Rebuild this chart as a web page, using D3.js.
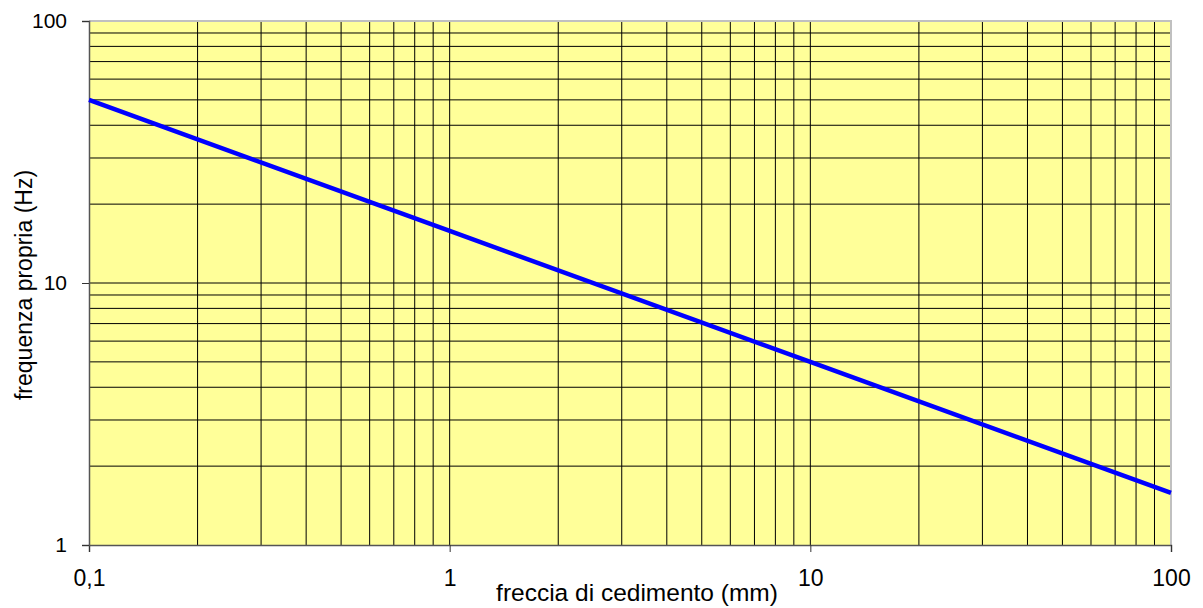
<!DOCTYPE html>
<html>
<head>
<meta charset="utf-8">
<script src="https://cdn.jsdelivr.net/npm/d3@7"></script>
<style>
  body { margin: 0; background: #fff; }
  svg { display: block; font-family: "Liberation Sans", Arial, sans-serif; }
</style>
</head>
<body>
<div id="chart"></div>
<script>
// values (log-log line)
const freccia = [0.1, 1, 10, 100];          // mm
const frequenza = [50, 15.8, 5, 1.58];      // Hz
const xTicks = [0.1, 1, 10, 100];
const xTickLabels = ["0,1", "1", "10", "100"];
const yTicks = [1, 10, 100];
const yTickLabels = ["1", "10", "100"];

const width = 1203, height = 608;
const margin = { top: 21, right: 32, bottom: 63, left: 89 };

const svg = d3.select("#chart").append("svg")
    .attr("width", width)
    .attr("height", height);

const x = d3.scaleLog()
    .domain([0.1, 100])
    .range([margin.left, width - margin.right]);

const y = d3.scaleLog()
    .domain([1, 100])
    .range([height - margin.bottom, margin.top]);

// plot background
svg.append("rect")
    .attr("x", margin.left)
    .attr("y", margin.top)
    .attr("width", x(100) - x(0.1))
    .attr("height", y(1) - y(100))
    .attr("fill", "#ffff99");

// minor + major grid lines
const xGrid = x.ticks().filter(d => d > 0.1 && d < 100);
const yGrid = y.ticks().filter(d => d > 1 && d < 100);

svg.append("g")
    .attr("stroke", "#000")
    .attr("stroke-width", 1)
    .selectAll("line")
    .data(xGrid)
    .join("line")
    .attr("x1", d => x(d)).attr("x2", d => x(d))
    .attr("y1", y(100)).attr("y2", y(1));

svg.append("g")
    .attr("stroke", "#000")
    .attr("stroke-width", 1)
    .selectAll("line")
    .data(yGrid)
    .join("line")
    .attr("x1", x(0.1)).attr("x2", x(100))
    .attr("y1", d => y(d)).attr("y2", d => y(d));

// light border on top and right
svg.append("path")
    .attr("d", `M${x(0.1)},${y(100)}H${x(100)}V${y(1)}`)
    .attr("fill", "none")
    .attr("stroke", "#c0c0c0")
    .attr("stroke-width", 2);

// axes
const xAxis = svg.append("g")
    .attr("transform", `translate(0,${y(1)})`)
    .call(d3.axisBottom(x).tickValues(xTicks)
        .tickFormat((d, i) => xTickLabels[i])
        .tickSize(7).tickPadding(18));

const yAxis = svg.append("g")
    .attr("transform", `translate(${x(0.1)},0)`)
    .call(d3.axisLeft(y).tickValues(yTicks)
        .tickFormat((d, i) => yTickLabels[i])
        .tickSize(7).tickPadding(15));

[xAxis, yAxis].forEach(g => {
    g.select(".domain").attr("stroke", "#555").attr("stroke-width", 1.5);
    g.selectAll(".tick line").attr("stroke", "#333");
    g.selectAll("text")
        .attr("font-family", "Liberation Sans, Arial, sans-serif")
        .attr("fill", "#000");
});
xAxis.selectAll("text").attr("font-size", 23);
yAxis.selectAll("text").attr("font-size", 21);

// the curve
const line = d3.line()
    .x((d, i) => x(freccia[i]))
    .y(d => y(d));

svg.append("path")
    .datum(frequenza)
    .attr("fill", "none")
    .attr("stroke", "#0000ff")
    .attr("stroke-width", 4.5)
    .attr("d", line);

// axis titles
svg.append("text")
    .attr("x", 637)
    .attr("y", 601)
    .attr("text-anchor", "middle")
    .attr("font-size", 24.5)
    .text("freccia di cedimento (mm)");

svg.append("text")
    .attr("transform", `translate(32,285) rotate(-90)`)
    .attr("text-anchor", "middle")
    .attr("font-size", 23)
    .text("frequenza propria (Hz)");
</script>
</body>
</html>
